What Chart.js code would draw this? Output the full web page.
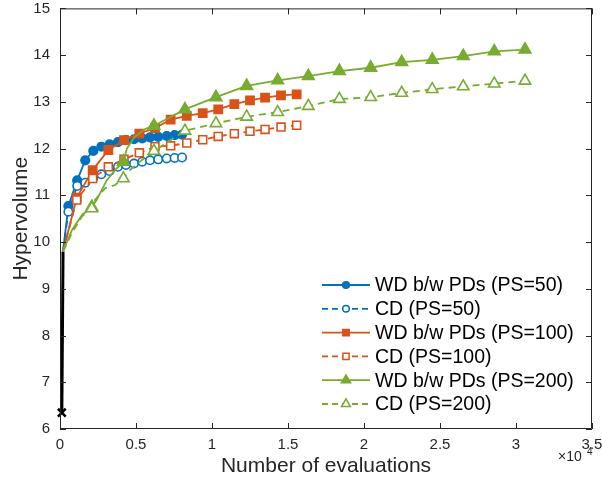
<!DOCTYPE html>
<html>
<head>
<meta charset="utf-8">
<script src="https://cdn.jsdelivr.net/npm/chart.js@4.4.0/dist/chart.umd.min.js"></script>
<style>
    body { margin: 0; background: #fff; }
    #wrap { width: 602px; height: 480px; }
</style>
</head>
<body>
<div id="wrap"><canvas id="hvChart" width="602" height="480"></canvas></div>
<script>
// x values are in units of 10^4 evaluations, like the axis
const xTicks = [0, 0.5, 1, 1.5, 2, 2.5, 3, 3.5];
const yTicks = [6, 7, 8, 9, 10, 11, 12, 13, 14, 15];

// initial population (black line + cross)
const initX = [0.012, 0.02];
const initY = [6.35, 9.8];

// PS=50
const x50 = [0.055, 0.113, 0.166, 0.219, 0.272, 0.326, 0.381, 0.434, 0.487, 0.541, 0.592, 0.646, 0.702, 0.754, 0.803];
const wd50 = [10.77, 11.32, 11.75, 11.95, 12.04, 12.09, 12.14, 12.18, 12.2, 12.22, 12.24, 12.25, 12.27, 12.29, 12.30];
const cd50 = [10.65, 11.2, 11.27, 11.37, 11.45, 11.52, 11.61, 11.65, 11.68, 11.72, 11.75, 11.77, 11.79, 11.80, 11.81];

// PS=100
const x100 = [0.11, 0.215, 0.318, 0.421, 0.522, 0.625, 0.728, 0.834, 0.939, 1.041, 1.147, 1.25, 1.349, 1.454, 1.557];
const wd100 = [10.95, 11.54, 11.97, 12.18, 12.32, 12.44, 12.62, 12.70, 12.76, 12.84, 12.95, 13.03, 13.09, 13.14, 13.16];
const cd100 = [10.90, 11.36, 11.61, 11.77, 11.91, 12.04, 12.06, 12.12, 12.19, 12.26, 12.32, 12.37, 12.41, 12.46, 12.50];

// PS=200
const x200 = [0.209, 0.417, 0.618, 0.822, 1.026, 1.228, 1.432, 1.634, 1.838, 2.044, 2.248, 2.449, 2.653, 2.857, 3.059];
const wd200 = [10.75, 11.72, 12.49, 12.84, 13.10, 13.34, 13.46, 13.55, 13.66, 13.73, 13.85, 13.90, 13.98, 14.08, 14.12];
const cd200 = [10.72, 11.36, 11.95, 12.38, 12.54, 12.68, 12.78, 12.91, 13.06, 13.10, 13.19, 13.27, 13.33, 13.39, 13.45];

// the PS=200 curves bend between the first few markers
const wd200PathX = [0.02, 0.079, 0.145, 0.209, 0.241, 0.307, 0.362, 0.417, 0.44, 0.49, 0.56, 0.618];
const wd200PathY = [9.8, 10.26, 10.58, 10.75, 10.90, 11.32, 11.54, 11.72, 12.0, 12.25, 12.42, 12.49];
const cd200PathX = [0.02, 0.079, 0.145, 0.209, 0.23, 0.296, 0.362, 0.417, 0.46, 0.537, 0.618];
const cd200PathY = [9.8, 10.2, 10.55, 10.72, 10.9, 11.15, 11.22, 11.36, 11.54, 11.75, 11.95];

const BLUE = '#0072BD', ORANGE = '#D95319', GREEN = '#77AC30', AXIS = '#262626';
const FONT = '"Liberation Sans", Arial, Helvetica, sans-serif';

const series = [
    { label: 'WD b/w PDs (PS=50)', color: BLUE, dash: [], style: 'circle', filled: true, radius: 4.3,
      mx: x50, my: wd50, px: [0.02].concat(x50), py: [9.8].concat(wd50) },
    { label: 'CD (PS=50)', color: BLUE, dash: [7, 5], style: 'circle', filled: false, radius: 4.2,
      mx: x50, my: cd50, px: [0.02].concat(x50), py: [9.8].concat(cd50) },
    { label: 'WD b/w PDs (PS=100)', color: ORANGE, dash: [], style: 'rect', filled: true, radius: 5.8,
      mx: x100, my: wd100, px: [0.02].concat(x100), py: [9.8].concat(wd100) },
    { label: 'CD (PS=100)', color: ORANGE, dash: [7, 5], style: 'rect', filled: false, radius: 5.6,
      mx: x100, my: cd100, px: [0.02].concat(x100), py: [9.8].concat(cd100) },
    { label: 'WD b/w PDs (PS=200)', color: GREEN, dash: [], style: 'triangle', filled: true, radius: 6.8,
      mx: x200, my: wd200, px: wd200PathX.concat(x200.slice(3)), py: wd200PathY.concat(wd200.slice(3)) },
    { label: 'CD (PS=200)', color: GREEN, dash: [7, 5], style: 'triangle', filled: false, radius: 6.6,
      mx: x200, my: cd200, px: cd200PathX.concat(x200.slice(3)), py: cd200PathY.concat(cd200.slice(3)) }
];

function toPoints(xs, ys) {
    return xs.map((x, i) => ({ x: x, y: ys[i] }));
}

function buildDatasets() {
    const sets = [];
    sets.push({
        data: toPoints(initX, initY),
        borderColor: '#000', borderWidth: 3, pointRadius: 0, showLine: true, order: 50
    });
    series.forEach((s, i) => {
        sets.push({
            data: toPoints(s.px, s.py),
            borderColor: s.color, borderWidth: 1.8, borderDash: s.dash,
            pointRadius: 0, showLine: true, order: 40 - i * 2
        });
        sets.push({
            data: toPoints(s.mx, s.my),
            showLine: false, pointStyle: s.style, pointRadius: s.radius,
            pointBackgroundColor: s.filled ? s.color : '#fff',
            pointBorderColor: s.color, pointBorderWidth: 1.6,
            order: 39 - i * 2, clip: false
        });
    });
    sets.push({
        data: toPoints([initX[0]], [initY[0]]),
        showLine: false, pointStyle: 'crossRot', pointRadius: 5.5,
        pointBorderColor: '#000', pointBorderWidth: 2.5, order: 0, clip: false
    });
    return sets;
}

// MATLAB style box with inward ticks
const framePlugin = {
    id: 'frame',
    afterDatasetsDraw(chart) {
        const { ctx, chartArea: a, scales: { x, y } } = chart;
        ctx.save();
        ctx.strokeStyle = AXIS;
        ctx.lineWidth = 1;
        ctx.setLineDash([]);
        ctx.beginPath();
        ctx.rect(a.left + 0.5, a.top + 0.5, a.right - a.left - 1, a.bottom - a.top - 1);
        xTicks.forEach(v => {
            const px = Math.round(x.getPixelForValue(v)) + 0.5;
            ctx.moveTo(px, a.bottom); ctx.lineTo(px, a.bottom - 6);
            ctx.moveTo(px, a.top); ctx.lineTo(px, a.top + 6);
        });
        yTicks.forEach(v => {
            const py = Math.round(y.getPixelForValue(v)) + 0.5;
            ctx.moveTo(a.left, py); ctx.lineTo(a.left + 6, py);
            ctx.moveTo(a.right, py); ctx.lineTo(a.right - 6, py);
        });
        ctx.stroke();

        // x10^4 exponent label
        ctx.fillStyle = AXIS;
        ctx.textBaseline = 'alphabetic';
        ctx.font = '14px ' + FONT;
        ctx.fillText('\u00d710', 558, 461);
        ctx.font = '10px ' + FONT;
        ctx.fillText('4', 587, 455);
        ctx.restore();
    }
};

// legend: line sample with marker, like MATLAB
const legendPlugin = {
    id: 'matLegend',
    afterDraw(chart) {
        const ctx = chart.ctx;
        const x0 = 322, x1 = 370, tx = 375, top = 285, step = 23.8;
        ctx.save();
        series.forEach((s, i) => {
            const yy = top + i * step;
            ctx.strokeStyle = s.color;
            ctx.lineWidth = 1.8;
            ctx.setLineDash(s.dash.length ? [6, 4] : []);
            ctx.beginPath();
            ctx.moveTo(x0, yy); ctx.lineTo(x1, yy);
            ctx.stroke();
            ctx.setLineDash([]);
            ctx.fillStyle = s.filled ? s.color : '#fff';
            ctx.strokeStyle = s.color;
            ctx.lineWidth = 1.5;
            Chart.helpers.drawPoint(ctx, {
                pointStyle: s.style, radius: s.radius * 0.78, rotation: 0, borderWidth: 1.5
            }, (x0 + x1) / 2, yy);
            ctx.fillStyle = '#000';
            ctx.font = '19.5px ' + FONT;
            ctx.textBaseline = 'middle';
            ctx.fillText(s.label, tx, yy + 1);
        });
        ctx.restore();
    }
};

function fmtTick(value) {
    return String(Math.round(value * 10) / 10);
}

document.addEventListener('DOMContentLoaded', function() {
    const ctx = document.getElementById('hvChart');
    new Chart(ctx, {
        type: 'scatter',
        data: { datasets: buildDatasets() },
        options: {
            responsive: false,
            animation: false,
            layout: { padding: { top: 8, right: 10, left: 0, bottom: 0 } },
            plugins: {
                legend: { display: false },
                tooltip: { enabled: false }
            },
            scales: {
                x: {
                    type: 'linear', min: 0, max: 3.5,
                    grid: { display: false, drawTicks: false },
                    border: { display: false },
                    ticks: {
                        stepSize: 0.5, autoSkip: false, maxRotation: 0, padding: 7,
                        color: AXIS, font: { family: FONT, size: 15 }, callback: fmtTick
                    },
                    title: {
                        display: true, text: 'Number of evaluations', color: AXIS,
                        font: { family: FONT, size: 21 }, padding: { top: 0, bottom: 1 }
                    },
                    afterFit: function(scale) {
                        scale.height = 51;
                        scale.paddingLeft = 0;
                        scale.paddingRight = 0;
                    }
                },
                y: {
                    type: 'linear', min: 6, max: 15,
                    grid: { display: false, drawTicks: false },
                    border: { display: false },
                    ticks: {
                        stepSize: 1, padding: 10,
                        color: AXIS, font: { family: FONT, size: 15 }
                    },
                    title: {
                        display: true, text: 'Hypervolume', color: AXIS,
                        font: { family: FONT, size: 21 }, padding: { top: 9, bottom: 0 }
                    },
                    afterFit: function(scale) {
                        scale.width = 60;
                        scale.paddingTop = 0;
                        scale.paddingBottom = 0;
                    }
                }
            }
        },
        plugins: [framePlugin, legendPlugin]
    });
});
</script>
</body>
</html>
